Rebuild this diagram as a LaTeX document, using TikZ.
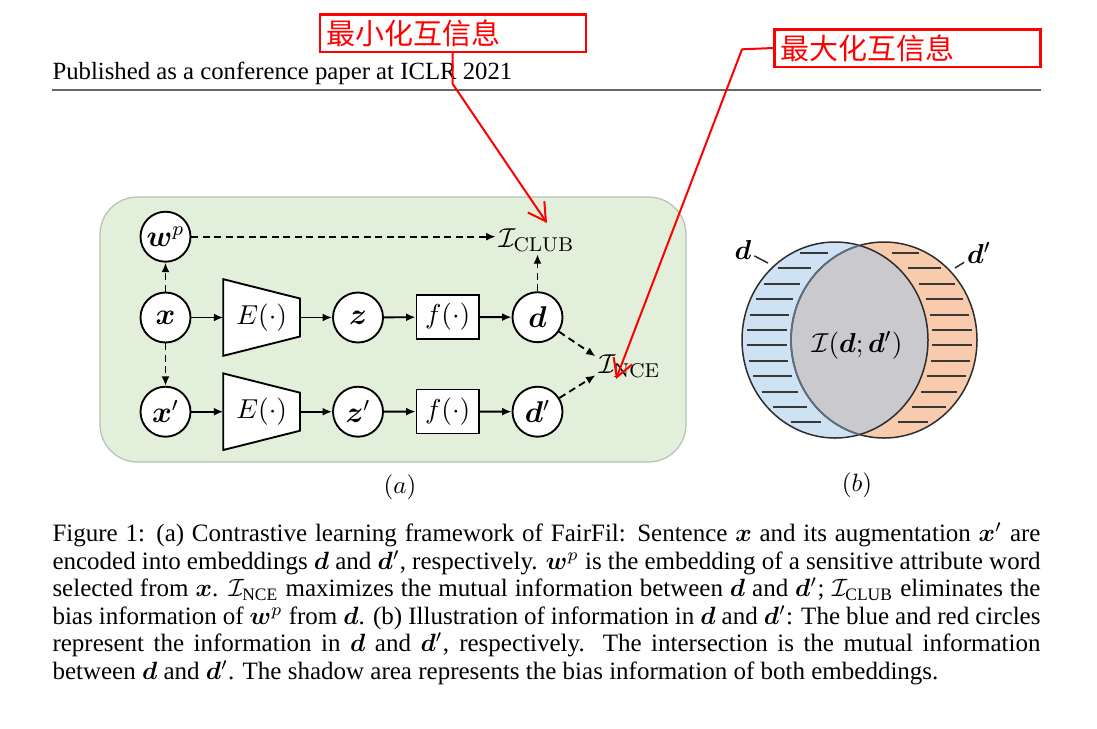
\documentclass[tikz,border=0pt]{standalone}
\usepackage{amsmath}
\usepackage{amssymb,bm}
\usepackage[no-math]{fontspec}
\setmainfont{Liberation Serif}
\newfontfamily\cjk{Noto Sans CJK SC}
\usepackage{xcolor}
\usepackage{tikz}
\usetikzlibrary{arrows.meta}

\definecolor{bggreen}{RGB}{226,239,218}
\definecolor{bgedge}{RGB}{185,195,180}
\definecolor{vblue}{RGB}{207,226,243}
\definecolor{vorange}{RGB}{248,203,173}
\definecolor{vgray}{RGB}{201,201,206}
\definecolor{vline}{RGB}{45,45,45}
\definecolor{vinner}{RGB}{95,110,125}

\begin{document}
\begin{tikzpicture}[x=0.4pt, y=-0.4pt,
        var/.style={circle, draw, fill=white, line width=0.75pt, minimum size=20pt, inner sep=0pt, font=\fontsize{11.5}{13}\selectfont},
        fun/.style={rectangle, draw, fill=white, line width=0.75pt, minimum width=25pt, minimum height=17.6pt, inner sep=0pt, font=\fontsize{11}{13}\selectfont},
        lbl/.style={inner sep=1pt, font=\fontsize{11}{13}\selectfont},
        arr/.style={line width=0.75pt, -{Latex[length=3.8pt, width=3.2pt]}},
        darr/.style={arr, dash pattern=on 2.8pt off 1.8pt},
        enc/.style={draw, fill=white, line width=0.75pt},
        hatch/.style={black!78, line width=0.8pt},
        redbox/.style={draw=red, line width=1pt, text=red, text width=101.6pt, align=left, inner xsep=2.4pt, inner ysep=1pt, minimum height=15pt, font=\cjk\fontsize{11.6}{13}\selectfont},
        callout/.style={red, line width=0.8pt, -{Straight Barb[length=7pt, width=8pt]}}]
        \useasboundingbox (0,0) rectangle (1097,728);
        \fill[white] (0,0) rectangle (1097,728);

        \node[anchor=base west, inner sep=0pt, font=\fontsize{9.9}{12}\selectfont] (head) at (52,79) {Published as a conference paper at ICLR 2021};
        \draw[line width=0.6pt, black!60] (52,90) -- (1040.5,90);

        \draw[fill=bggreen, draw=bgedge, line width=0.5pt, rounded corners=15pt] (100,197) rectangle (686,462);

        \draw[enc] (223.3,279.2) -- (300,298.5) -- (300,336.5) -- (223.3,355.8) -- cycle;
        \draw[enc] (223.3,373.4) -- (300,392.7) -- (300,430.7) -- (223.3,450) -- cycle;
        \coordinate (enc1in) at (223.3,317.5);
        \coordinate (enc1out) at (300,317.5);
        \coordinate (enc2in) at (223.3,411.7);
        \coordinate (enc2out) at (300,411.7);

        \node[var] (wp) at (165.5,236.7) {$\bm{w}^p$};
        \node[var] (x) at (165.5,317.5) {$\bm{x}$};
        \node[var] (xp) at (165.5,411.7) {$\bm{x}'$};
        \node[lbl] (enc1) at (261.7,317.5) {$E(\cdot)$};
        \node[lbl] (enc2) at (261.7,411.7) {$E(\cdot)$};
        \node[var] (z) at (358,317.5) {$\bm{z}$};
        \node[var] (zp) at (358,411.7) {$\bm{z}'$};
        \node[fun] (f1) at (447.7,317) {$f(\cdot)$};
        \node[fun] (f2) at (447.7,411.5) {$f(\cdot)$};
        \node[var] (d) at (537.5,317.2) {$\bm{d}$};
        \node[var] (dp) at (537.5,411.7) {$\bm{d}'$};
        \node[lbl, anchor=base] (club) at (536.5,247) {$\mathcal{I}_{\mathrm{CLUB}}$};
        \node[lbl, anchor=base west] (nce) at (595.5,373) {$\mathcal{I}_{\mathrm{NCE}}$};

        \draw[darr] (wp) -- (wp -| club.west);
        \draw[darr] (d) -- (d |- club.south);
        \draw[darr] (x) -- (wp);
        \draw[darr] (x) -- (xp);
        \draw[arr] (x) -- (enc1in);
        \draw[arr] (enc1out) -- (z);
        \draw[arr] (z) -- (f1);
        \draw[arr] (f1) -- (d);
        \draw[arr] (xp) -- (enc2in);
        \draw[arr] (enc2out) -- (zp);
        \draw[arr] (zp) -- (f2);
        \draw[arr] (f2) -- (dp);
        \draw[darr] (d) -- ([yshift=3.8pt]nce.west);
        \draw[darr] (dp) -- ([yshift=-3.8pt]nce.west);

        \node[font=\fontsize{10}{12}\selectfont] (la) at (400,487) {$(a)$};

        \fill[vblue] (835,340) ellipse (93 and 98);
        \fill[vorange] (884,340) ellipse (93 and 98);
        \begin{scope}
            \clip (835,340) ellipse (93 and 98);
            \fill[vgray] (884,340) ellipse (93 and 98);
        \end{scope}
        \foreach \k in {0,...,11} {
            \pgfmathsetmacro\yy{round(253+15.4*\k)}
            \pgfmathsetmacro\ss{sqrt(1-((\yy-340)/98)^2)}
            \pgfmathsetmacro\gin{4.5+17*(1-\ss)}
            \pgfmathsetmacro\gout{4.5+6*(1-\ss)}
            \draw[hatch] (835-93*\ss+\gout,\yy) -- (884-93*\ss-\gin,\yy);
            \draw[hatch] (835+93*\ss+\gin,\yy) -- (884+93*\ss-\gout,\yy);
        }
        \draw[vline, line width=0.6pt] (835,340) ellipse (93 and 98);
        \draw[vline, line width=0.6pt] (884,340) ellipse (93 and 98);
        \begin{scope}
            \clip (835,340) ellipse (93 and 98);
            \draw[vinner, line width=0.7pt] (884,340) ellipse (93 and 98);
        \end{scope}

        \node[lbl] (dl) at (743,250) {$\bm{d}$};
        \node[lbl] (dpl) at (979,253) {$\bm{d}'$};
        \coordinate (dtick) at (768,263);
        \coordinate (dptick) at (955,268);
        \draw[vline, line width=0.6pt] (dl) -- (dtick);
        \draw[vline, line width=0.6pt] (dpl) -- (dptick);
        \node[lbl] (mi) at (857,345) {$\mathcal{I}(\bm{d};\bm{d}')$};
        \node[font=\fontsize{10}{12}\selectfont] (lb) at (857,485) {$(b)$};

        \node[anchor=base west, inner sep=0pt, text width=395.2pt, align=justify, font=\fontsize{10}{11}\selectfont] (cap) at (52,541.7) {Figure 1: (a) Contrastive learning framework of FairFil: Sentence $\bm{x}$ and its augmentation $\bm{x}'$ are\linebreak
        encoded into embeddings $\bm{d}$ and $\bm{d}'$, respectively. $\bm{w}^p$ is the embedding of a sensitive attribute word\linebreak
        selected from $\bm{x}$. $\mathcal{I}_{\text{NCE}}$ maximizes the mutual information between $\bm{d}$ and $\bm{d}'$; $\mathcal{I}_{\text{CLUB}}$ eliminates the\linebreak
        bias information of $\bm{w}^p$ from $\bm{d}$. (b) Illustration of information in $\bm{d}$ and $\bm{d}'$: The blue and red circles\linebreak
        represent the information in $\bm{d}$ and $\bm{d}'$, respectively.  The intersection is the mutual information\linebreak
        between $\bm{d}$ and $\bm{d}'$. The shadow area represents the bias information of both embeddings.};

        \node[redbox] (msg1) at (453,33) {最小化互信息};
        \node[redbox] (msg2) at (907.5,48) {最大化互信息};
        \coordinate (k1) at (452.7,84);
        \coordinate (t1) at (547,223);
        \draw[callout] (msg1.south -| k1) -- (k1) -- (t1);
        \coordinate (k2) at (742,49.3);
        \coordinate (t2) at (616,379);
        \draw[callout] (msg2.west) -- (k2) -- (t2);
    \end{tikzpicture}
\end{document}
